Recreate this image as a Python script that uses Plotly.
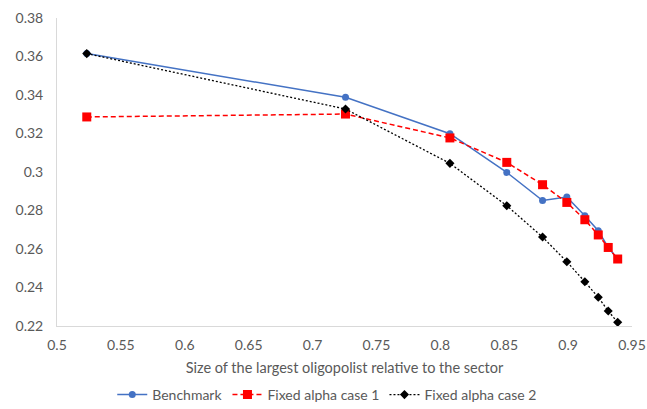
import plotly.graph_objects as go

# Size of the largest oligopolist relative to the sector
size_share = [0.5233, 0.7258, 0.8075, 0.852, 0.880, 0.899, 0.9131, 0.9236, 0.9314, 0.9388]

benchmark = [0.3615, 0.3388, 0.3199, 0.2998, 0.2852, 0.2870, 0.2773, 0.2695, 0.2608, 0.2548]
fixed_alpha_1 = [0.3286, 0.3301, 0.3177, 0.3050, 0.2934, 0.2842, 0.2752, 0.2673, 0.2608, 0.2548]
fixed_alpha_2 = [0.3615, 0.3327, 0.3045, 0.2825, 0.2662, 0.2534, 0.2430, 0.2349, 0.2278, 0.2219]

series_names = ["Benchmark", "Fixed alpha case 1", "Fixed alpha case 2"]
x_ticks = [0.5, 0.55, 0.6, 0.65, 0.7, 0.75, 0.8, 0.85, 0.9, 0.95]
y_ticks = [0.22, 0.24, 0.26, 0.28, 0.3, 0.32, 0.34, 0.36, 0.38]

FONT = "Lato"
GREY = "#595959"

fig = go.Figure()
fig.add_trace(go.Scatter(
    x=size_share, y=benchmark, name=series_names[0], mode="lines+markers",
    line=dict(color="#4472C4", width=1.5),
    marker=dict(symbol="circle", size=7, color="#4472C4"),
))
fig.add_trace(go.Scatter(
    x=size_share, y=fixed_alpha_1, name=series_names[1], mode="lines+markers",
    line=dict(color="#FF0000", width=1.5, dash="5px,3px"),
    marker=dict(symbol="square", size=9, color="#FF0000"),
))
fig.add_trace(go.Scatter(
    x=size_share, y=fixed_alpha_2, name=series_names[2], mode="lines+markers",
    line=dict(color="#000000", width=1.3, dash="2px,2px"),
    marker=dict(symbol="diamond", size=7, color="#000000"),
))

fig.update_layout(
    width=647, height=409,
    margin=dict(l=57, r=15, t=18, b=83, autoexpand=False),
    paper_bgcolor="white", plot_bgcolor="white",
    font=dict(family=FONT, size=14, color=GREY),
    showlegend=True,
    legend=dict(
        orientation="h", x=0.47, xanchor="center",
        yref="container", y=14 / 409, yanchor="middle",
        font=dict(family=FONT, size=14, color=GREY),
        itemwidth=30, traceorder="normal",
    ),
)
fig.update_xaxes(
    range=[0.5, 0.95], tickvals=x_ticks, ticktext=[f"{v:g}" for v in x_ticks],
    showgrid=False, zeroline=False, showline=True, linecolor="#D9D9D9", linewidth=1,
    ticks="", ticklen=0, automargin=False, ticklabelstandoff=6,
    tickfont=dict(family=FONT, size=14, color=GREY),
    title=dict(text="Size of the largest oligopolist relative to the sector",
               font=dict(family=FONT, size=14.5, color=GREY), standoff=11),
)
fig.update_yaxes(
    range=[0.22, 0.38], tickvals=y_ticks, ticktext=[f"{v:g}" for v in y_ticks],
    showgrid=False, zeroline=False, showline=True, linecolor="#D9D9D9", linewidth=1,
    ticks="", automargin=False, ticklabelstandoff=10,
    tickfont=dict(family=FONT, size=14, color=GREY),
)

fig.write_html("out.html")
